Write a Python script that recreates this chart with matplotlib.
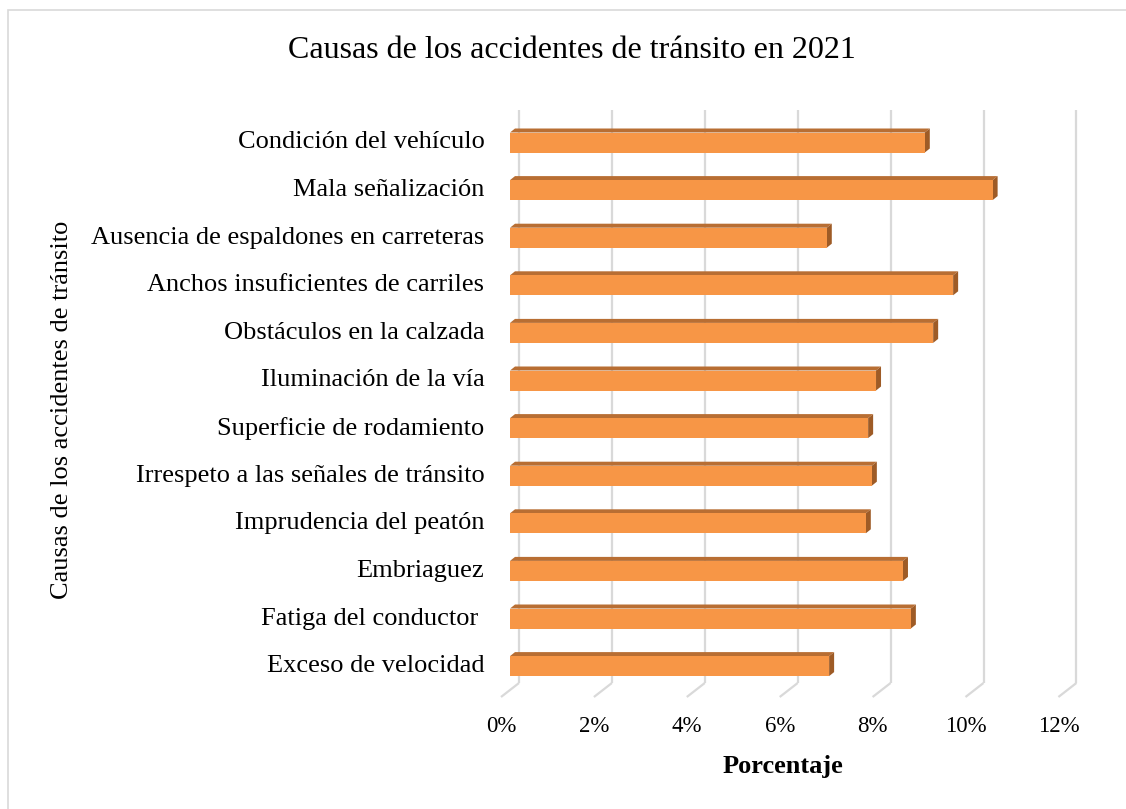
import matplotlib
matplotlib.use("Agg")
import matplotlib.pyplot as plt
from matplotlib.patches import Polygon, Rectangle

# ---------------- data ----------------
categories = [
    "Condición del vehículo",
    "Mala señalización",
    "Ausencia de espaldones en carreteras",
    "Anchos insuficientes de carriles",
    "Obstáculos en la calzada",
    "Iluminación de la vía",
    "Superficie de rodamiento",
    "Irrespeto a las señales de tránsito",
    "Imprudencia del peatón",
    "Embriaguez",
    "Fatiga del conductor ",
    "Exceso de velocidad",
]
values = [8.93, 10.39, 6.82, 9.54, 9.11, 7.88, 7.71, 7.79, 7.66, 8.46, 8.63, 6.87]
x_ticks = [0, 2, 4, 6, 8, 10, 12]
x_tick_labels = ["0%", "2%", "4%", "6%", "8%", "10%", "12%"]
title = "Causas de los accidentes de tránsito en 2021"
x_title = "Porcentaje"
y_title = "Causas de los accidentes de tránsito"

# ---------------- style ----------------
FONT = "Liberation Serif"
FRONT = "#F79646"
TOP = "#B86E33"
SIDE = "#9E5B26"
GRID = "#D9D9D9"

W, H = 1126, 809
fig = plt.figure(figsize=(W / 100, H / 100), dpi=100)

# axes placed in pixel terms
ax_l, ax_r, ax_t, ax_b = 490, 1100, 100, 700
ax = fig.add_axes([ax_l / W, 1 - ax_b / H, (ax_r - ax_l) / W, (ax_b - ax_t) / H])

px_per_unit_x = 46.45   # pixels per 1 %
x0_px = 510             # pixel of 0 % at bar depth
px_per_row = 47.6
row0_px = 142.5

ax.set_xlim((ax_l - x0_px) / px_per_unit_x, (ax_r - x0_px) / px_per_unit_x)
ax.set_ylim((ax_b - row0_px) / px_per_row, (ax_t - row0_px) / px_per_row)
ax.axis("off")

# depth offsets (data units)
back_dx = 9 / px_per_unit_x
back_dy = -7 / px_per_row
front_dx = -9 / px_per_unit_x
front_dy = 7 / px_per_row
grid_top = (110 - row0_px) / px_per_row
grid_bot = (683 - row0_px) / px_per_row

# gridlines: back wall vertical + floor diagonal
for t in x_ticks:
    xb = t + back_dx
    ax.plot([xb, xb], [grid_top, grid_bot], color=GRID, lw=1.6, zorder=1,
            solid_capstyle="butt")
    ax.plot([xb, xb - back_dx + front_dx], [grid_bot, grid_bot + front_dy - back_dy],
            color=GRID, lw=1.6, zorder=1, solid_capstyle="butt")

# 3D-ish bars
bar_h = 20 / px_per_row
top_dx = 5 / px_per_unit_x
top_dy = -4 / px_per_row
for i, v in enumerate(values):
    y_top = i - bar_h / 2
    y_bot = i + bar_h / 2
    ax.add_patch(Polygon([(0, y_top), (v, y_top), (v + top_dx, y_top + top_dy),
                          (top_dx, y_top + top_dy)], closed=True,
                         facecolor=TOP, edgecolor="none", zorder=3))
    ax.add_patch(Polygon([(v, y_top), (v, y_bot), (v + top_dx, y_bot + top_dy),
                          (v + top_dx, y_top + top_dy)], closed=True,
                         facecolor=SIDE, edgecolor="none", zorder=3))
    ax.barh(i, v, height=bar_h, left=0, color=FRONT, edgecolor="none", zorder=4)

# category labels
for i, c in enumerate(categories):
    ax.annotate(c, xy=(ax.get_xlim()[0], i), xytext=(-4, 0), textcoords="offset points",
                ha="right", va="center", fontsize=19, family=FONT, color="#000000",
                annotation_clip=False)

# x tick labels at front edge
lab_y = (727 - row0_px) / px_per_row
for t, lab in zip(x_ticks, x_tick_labels):
    ax.text(t + front_dx, lab_y, lab, ha="center", va="center", fontsize=16.5,
            family=FONT, color="#000000", clip_on=False)

# titles
fig.text(572 / W, 1 - 50 / H, title, ha="center", va="center", fontsize=23,
         family=FONT, color="#000000")
fig.text(783 / W, 1 - 767 / H, x_title, ha="center", va="center", fontsize=19,
         family=FONT, weight="bold", color="#000000")
fig.text(62 / W, 1 - 410 / H, y_title, ha="center", va="center", fontsize=19,
         family=FONT, rotation=90, color="#000000")

# chart border
fig.patches.append(Rectangle((8 / W, -0.01), 1.2, 1 - 10 / H + 0.01,
                             transform=fig.transFigure, fill=False,
                             edgecolor=GRID, lw=1.2))

fig.savefig("out.png", dpi=100, facecolor="white")
